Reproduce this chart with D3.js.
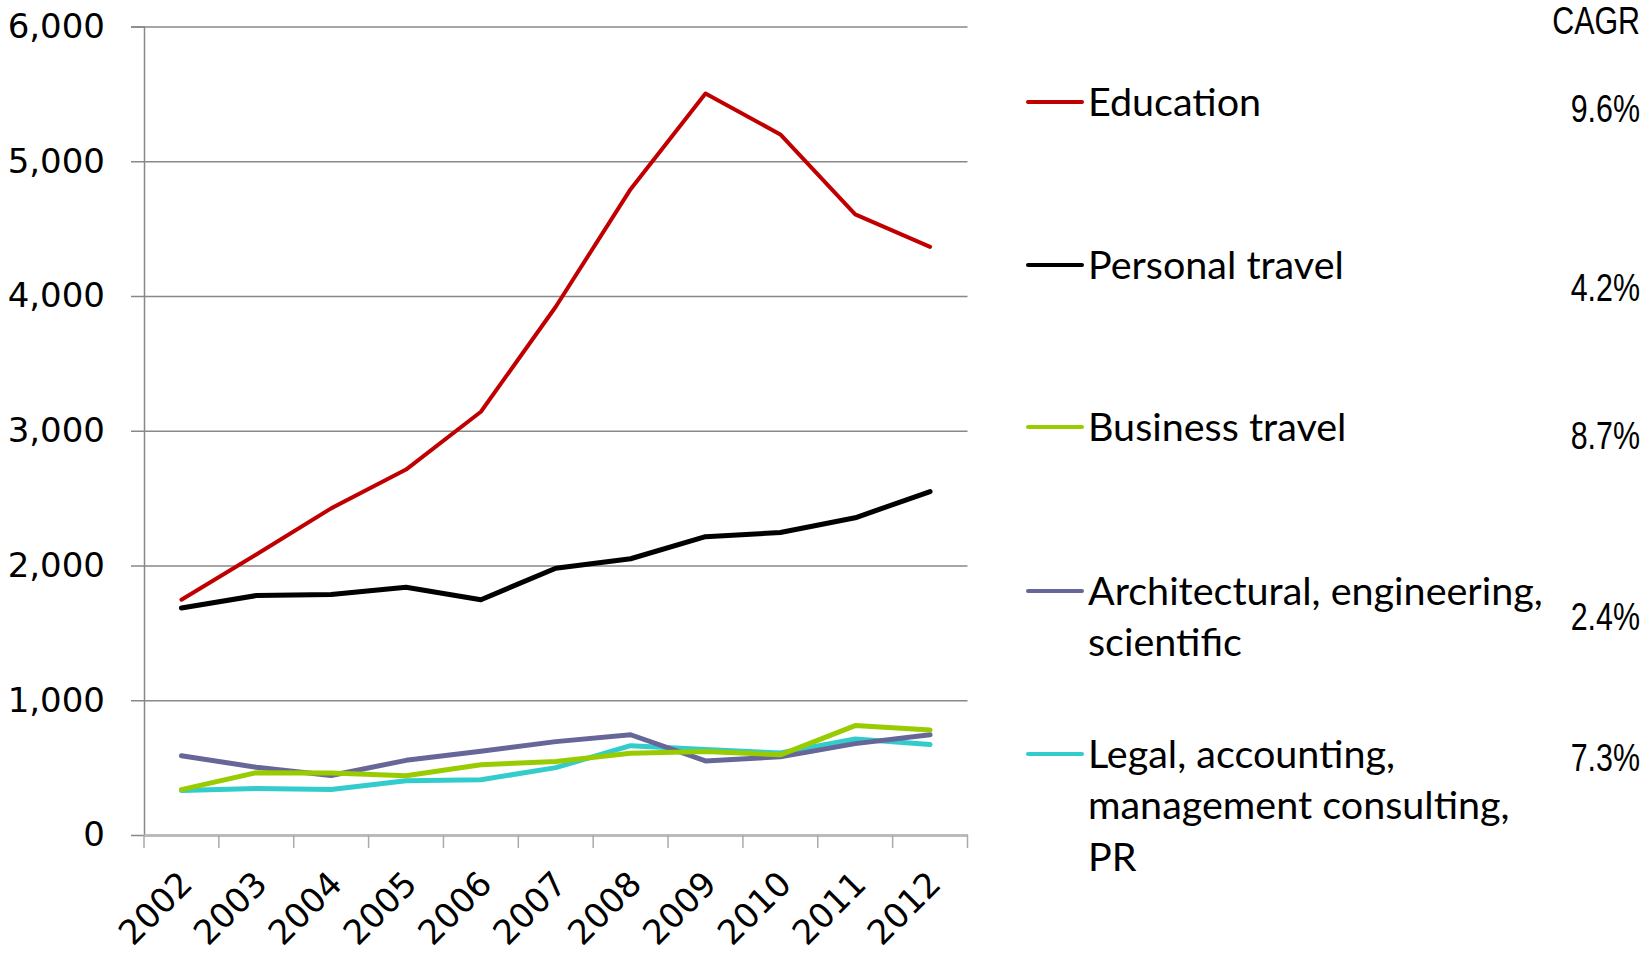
<!DOCTYPE html>
<html>
<head>
<meta charset="utf-8">
<script src="https://cdn.jsdelivr.net/npm/d3@7"></script>
<style>
  body { margin: 0; background: #fff; }
  svg { display: block; }
</style>
</head>
<body>
<svg id="chart"></svg>
<script>
// Chart data
const years = ["2002", "2003", "2004", "2005", "2006", "2007", "2008", "2009", "2010", "2011", "2012"];
const education = [1746, 2081, 2424, 2712, 3141, 3920, 4793, 5503, 5199, 4606, 4365];
const personalTravel = [1684, 1777, 1785, 1839, 1746, 1980, 2050, 2214, 2245, 2354, 2549];
const businessTravel = [337, 462, 460, 440, 522, 546, 606, 620, 595, 812, 780];
const architectural = [588, 503, 442, 554, 621, 693, 744, 550, 580, 678, 744];
const legal = [330, 345, 337, 402, 410, 500, 663, 634, 608, 712, 672];
const yTicks = [0, 1000, 2000, 3000, 4000, 5000, 6000];
const seriesNames = [["Education"], ["Personal travel"], ["Business travel"],
  ["Architectural, engineering,", "scientific"], ["Legal, accounting,", "management consulting,", "PR"]];
const cagr = ["9.6%", "4.2%", "8.7%", "2.4%", "7.3%"];

const series = [
  { name: seriesNames[0], values: education, color: "#C00000", width: 4, cagr: cagr[0] },
  { name: seriesNames[1], values: personalTravel, color: "#000000", width: 5, cagr: cagr[1] },
  { name: seriesNames[2], values: businessTravel, color: "#99CC00", width: 5, cagr: cagr[2] },
  { name: seriesNames[3], values: architectural, color: "#666699", width: 5, cagr: cagr[3] },
  { name: seriesNames[4], values: legal, color: "#33CCCC", width: 5, cagr: cagr[4] }
];

/*
** LAYOUT
*/
const width = 1647, height = 955;
const svg = d3.select("#chart").attr("width", width).attr("height", height);

const x = d3.scaleBand().domain(years).range([144, 967.5]);
const y = d3.scaleLinear().domain([0, 6000]).range([835, 26.5]);

// Gridlines + y labels
const yAxis = svg.append("g").attr("transform", "translate(144,0)")
  .call(d3.axisLeft(y).tickValues(yTicks).tickSize(13).tickFormat(d3.format(",")));
yAxis.select(".domain").attr("stroke", "#888").attr("stroke-width", 1.5);
yAxis.selectAll(".tick line").attr("stroke", "#888").attr("stroke-width", 1.5)
  .attr("x2", 967.5 - 144).attr("x1", -13);
yAxis.selectAll(".tick text")
  .attr("x", -39)
  .style("font-family", "DejaVu Sans")
  .style("font-size", "34px")
  .attr("fill", "#000");
yAxis.selectAll(".tick").filter(d => d === 0).select("line").remove();

// X axis
const xAxis = svg.append("g").attr("transform", `translate(0,${y(0)})`)
  .call(d3.axisBottom(x).tickSize(0).tickFormat(""));
xAxis.select(".domain").attr("stroke", "#bbb").attr("stroke-width", 3);
xAxis.selectAll(".tick").remove();

const tickPos = years.map(d => x(d)).concat([x.range()[1]]);
svg.append("g").selectAll("line")
  .data(tickPos)
  .enter()
  .append("line")
    .attr("x1", d => d).attr("x2", d => d)
    .attr("y1", y(0)).attr("y2", y(0) + 13)
    .attr("stroke", "#aaa").attr("stroke-width", 1.5);

svg.append("g").selectAll("text")
  .data(years)
  .enter()
  .append("text")
    .text(d => d)
    .attr("transform", d => `translate(${x(d) + x.bandwidth() / 2 - 4},${y(0) + 34}) rotate(-45)`)
    .attr("text-anchor", "end")
    .attr("dy", "0.7em")
    .style("font-family", "DejaVu Sans")
    .style("font-size", "34px");

// Lines
const line = d3.line()
  .x((d, i) => x(years[i]) + x.bandwidth() / 2)
  .y(d => y(d));

// draw lower series first so the big ones sit on top
series.slice().reverse().forEach(s => {
  svg.append("path")
    .datum(s.values)
    .attr("d", line)
    .attr("fill", "none")
    .attr("stroke", s.color)
    .attr("stroke-width", s.width)
    .attr("stroke-linejoin", "round")
    .attr("stroke-linecap", "round");
});

/*
** LEGEND + CAGR
*/
const legendY = [102, 265, 427, 591, 754];
const cagrY = [109, 288, 436, 617, 758];

const legend = svg.append("g");
series.forEach((s, i) => {
  legend.append("line")
    .attr("x1", 1028).attr("x2", 1082)
    .attr("y1", legendY[i]).attr("y2", legendY[i])
    .attr("stroke", s.color).attr("stroke-width", 4)
    .attr("stroke-linecap", "round");
  let t = legend.append("text")
    .attr("x", 1088).attr("y", legendY[i])
    .style("font-family", "Lato")
    .style("font-size", "39.5px");
  s.name.forEach((n, j) => {
    t.append("tspan").attr("x", 1088).attr("y", legendY[i] + j * 51.5).attr("dy", "0.35em").text(n);
  });
  // narrow look: squeeze Liberation Sans horizontally
  legend.append("text")
    .attr("transform", `translate(1640,${cagrY[i]}) scale(0.8,1)`)
    .attr("dy", "0.35em")
    .attr("text-anchor", "end")
    .style("font-family", "Liberation Sans")
    .style("font-size", "38px")
    .text(s.cagr);
});

legend.append("text")
  .attr("transform", "translate(1640,21) scale(0.8,1)")
  .attr("dy", "0.35em")
  .attr("text-anchor", "end")
  .style("font-family", "Liberation Sans")
  .style("font-size", "38px")
  .text("CAGR");
</script>
</body>
</html>
